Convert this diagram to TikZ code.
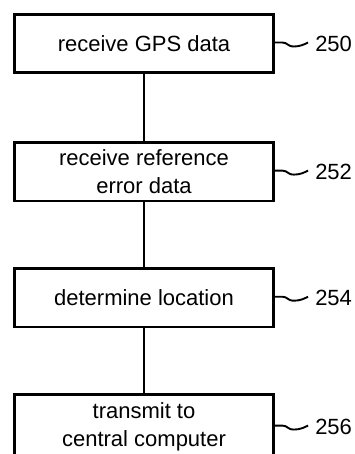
\documentclass[tikz,border=0pt]{standalone}
\usepackage{fontspec}
\setmainfont{Liberation Sans}
\usetikzlibrary{positioning}

\begin{document}
\begin{tikzpicture}[
  x=1pt, y=1pt,
  stepbox/.style={draw, line width=2.6pt, minimum width=259.5pt, minimum height=58.5pt,
                  align=center, font=\fontsize{22}{28}\selectfont},
  link/.style={line width=2.6pt},
  lead/.style={line width=1.9pt},
  refnum/.style={anchor=west, inner sep=0pt, font=\fontsize{22}{26}\selectfont},
  node distance=65pt
]
\useasboundingbox (0,0) rectangle (354,-454);
\clip (0,0) rectangle (354,-454);
\node[stepbox] (gps) at (144,-43.5) {receive GPS data};
\node[stepbox, below=67pt of gps] (err)  {receive reference\\error data};
\node[stepbox, below=of err]      (loc)  {determine location};
\node[stepbox, below=of loc, minimum height=64pt] (send) {transmit to\\central computer};
\draw[link] (gps) -- (err);
\draw[link] (err) -- (loc);
\draw[link] (loc) -- (send);
% reference numerals
\node[refnum, right=40pt of gps.east]  (n250) {250};
\node[refnum, right=40pt of err.east]  (n252) {252};
\node[refnum, right=40pt of loc.east]  (n254) {254};
\node[refnum, right=40pt of send.east] (n256) {256};
\draw[lead] ([yshift=1pt]gps.east) -- ++(7,0)
  .. controls +(6,0) and +(-7,0) .. ++(12,-4)
  .. controls +(6,0) and +(-4,-2) .. ++(14,4);
\draw[lead] ([yshift=1pt]err.east) -- ++(7,0)
  .. controls +(6,0) and +(-7,0) .. ++(12,-4)
  .. controls +(6,0) and +(-4,-2) .. ++(14,4);
\draw[lead] ([yshift=1pt]loc.east) -- ++(7,0)
  .. controls +(6,0) and +(-7,0) .. ++(12,-4)
  .. controls +(6,0) and +(-4,-2) .. ++(14,4);
\draw[lead] ([yshift=1pt]send.east) -- ++(7,0)
  .. controls +(6,0) and +(-7,0) .. ++(12,-4)
  .. controls +(6,0) and +(-4,-2) .. ++(14,4);
\end{tikzpicture}
\end{document}
